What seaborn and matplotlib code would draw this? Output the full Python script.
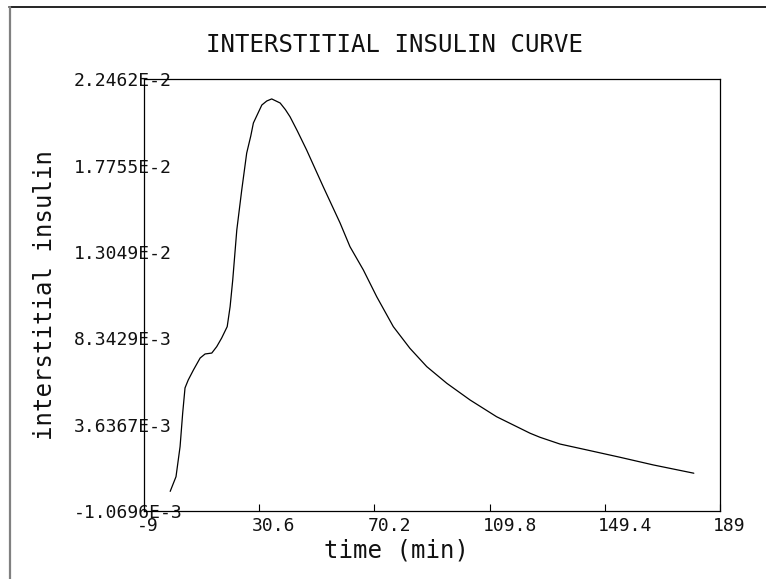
import matplotlib
matplotlib.use("Agg")
import matplotlib.pyplot as plt
import matplotlib.transforms as mtransforms
from matplotlib.lines import Line2D
import seaborn as sns
import pandas as pd

# Simulated interstitial insulin concentration over time
time_min = [0.0, 2.0, 3.4, 4.3, 5.1, 6.2, 8.0, 10.3, 12.0, 14.3, 16.0, 17.7,
            19.6, 20.6, 21.5, 22.9, 24.6, 26.3, 27.7, 28.6, 31.5, 33.2, 34.9,
            37.8, 39.6, 41.2, 43.7, 46.9, 52.6, 58.4, 61.8, 66.4, 71.0, 76.7,
            82.4, 88.2, 95.1, 103.1, 112.2, 123.7, 127.1, 134.0, 143.2, 154.6,
            166.1, 180.0]
insulin = [0.0, 0.00080, 0.00244, 0.00427, 0.00564, 0.00607, 0.00662,
           0.00727, 0.00749, 0.00754, 0.00789, 0.00836, 0.00898, 0.01007,
           0.01152, 0.01425, 0.01643, 0.01844, 0.01937, 0.02008, 0.02106,
           0.02128, 0.0213924, 0.02117, 0.02081, 0.02042, 0.01965, 0.01861,
           0.01661, 0.01463, 0.01334, 0.01207, 0.01061, 0.00898, 0.00780,
           0.00680, 0.00589, 0.00498, 0.00407, 0.00317, 0.00295, 0.00258,
           0.00226, 0.00186, 0.00144, 0.00099]

x_ticks = [-9, 30.6, 70.2, 109.8, 149.4, 189]
x_tick_labels = ["-9", "30.6", "70.2", "109.8", "149.4", "189"]
y_ticks = [-1.0696e-3, 3.6367e-3, 8.3429e-3, 1.3049e-2, 1.7755e-2, 2.2462e-2]
y_tick_labels = ["-1.0696E-3", "3.6367E-3", "8.3429E-3",
                 "1.3049E-2", "1.7755E-2", "2.2462E-2"]

df = pd.DataFrame({"time": time_min, "insulin": insulin})

sns.set_theme(style="white")
plt.rcParams["font.family"] = ["DejaVu Sans Mono", "DejaVu Sans"]

W, H = 766, 579
fig = plt.figure(figsize=(W / 100, H / 100), dpi=100)
fig.patch.set_facecolor("white")

ax_l, ax_r, ax_t, ax_b = 144, 720, 79.3, 511
ax = fig.add_axes([ax_l / W, 1 - ax_b / H, (ax_r - ax_l) / W, (ax_b - ax_t) / H])
ax.set_facecolor("white")

sns.lineplot(data=df, x="time", y="insulin", color="black", linewidth=0.9,
             ax=ax, sort=False, estimator=None)

ax.set_xlim(x_ticks[0], x_ticks[-1])
ax.set_ylim(y_ticks[0], y_ticks[-1])

for s in ax.spines.values():
    s.set_visible(True)
    s.set_color("black")
    s.set_linewidth(0.9)

text_col = "#111111"
ax.tick_params(axis="x", direction="in", length=5, width=0.8, color="black",
               pad=4, labelsize=13, labelcolor=text_col, bottom=True)
ax.tick_params(axis="y", direction="in", length=0, pad=50.4,
               labelsize=13, labelcolor=text_col, left=True)

ax.set_xticks(x_ticks)
ax.set_xticklabels(x_tick_labels)
ax.set_yticks(y_ticks)
ax.set_yticklabels(y_tick_labels)

shift = mtransforms.ScaledTranslation(-0.07, 0, fig.dpi_scale_trans)
for lbl in ax.get_xticklabels():
    lbl.set_horizontalalignment("left")
    lbl.set_transform(lbl.get_transform() + shift)
for lbl in ax.get_yticklabels():
    lbl.set_horizontalalignment("left")

ax.set_xlabel("time (min)", fontsize=17.3, color=text_col)
ax.xaxis.label.set_verticalalignment("center")
ax.xaxis.set_label_coords((396 - ax_l) / (ax_r - ax_l), (ax_b - 550.7) / (ax_b - ax_t))

ax.set_ylabel("interstitial insulin", fontsize=17.3, color=text_col)
ax.yaxis.label.set_verticalalignment("center")
ax.yaxis.set_label_coords((45 - ax_l) / (ax_r - ax_l), 0.5)

title = ax.set_title("INTERSTITIAL INSULIN CURVE", fontsize=17.3, color=text_col,
                     x=(394.5 - ax_l) / (ax_r - ax_l),
                     y=(ax_b - 45) / (ax_b - ax_t), pad=0)
title.set_verticalalignment("center")

# page frame: dark top rule and grey left rule
fig.add_artist(Line2D([9 / W, 1], [1 - 7 / H, 1 - 7 / H], color="black",
                      linewidth=1.2, transform=fig.transFigure))
fig.add_artist(Line2D([10 / W, 10 / W], [0, 1 - 7 / H], color="#808080",
                      linewidth=1.6, transform=fig.transFigure))

fig.savefig("out.png", dpi=100)
